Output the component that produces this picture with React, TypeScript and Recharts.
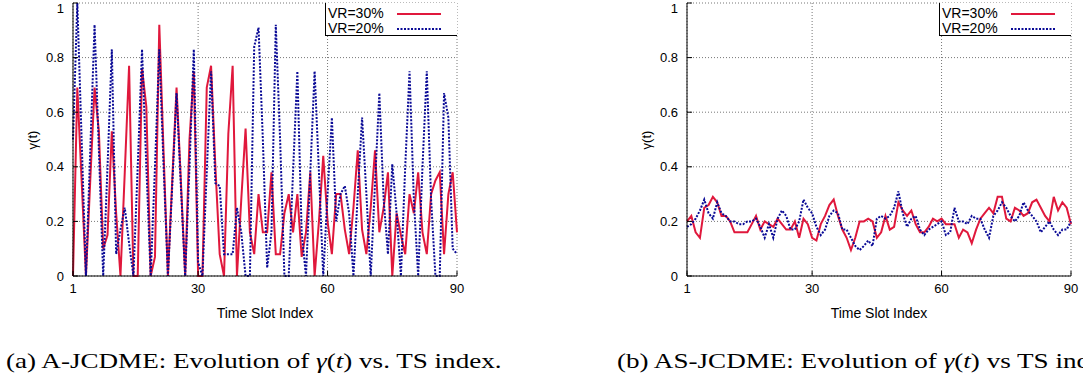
import { LineChart, Line, XAxis, YAxis, CartesianGrid, Legend } from 'recharts'

// time slot index 1..90
const slots = Array.from({ length: 90 }, (_, i) => i + 1)
const xTicks = [1, 30, 60, 90]
const yTicks = [0, 0.2, 0.4, 0.6, 0.8, 1]

// (a) A-JCDME
const ajVr30 = [
  0, 0.69, 0.35, 0, 0.35, 0.69, 0.53, 0.1, 0.15, 0.53,
  0.23, 0, 0.38, 0.77, 0, 0, 0.76, 0.62, 0, 0.07,
  0.92, 0.45, 0, 0.35, 0.69, 0.35, 0, 0.5, 0.75, 0,
  0, 0.69, 0.77, 0.4, 0.08, 0, 0.52, 0.77, 0, 0.28,
  0.54, 0.16, 0.08, 0.3, 0.16, 0.16, 0.38, 0.08, 0.08, 0.23,
  0.3, 0.16, 0.3, 0.07, 0.16, 0.38, 0, 0.2, 0.44, 0.2,
  0.08, 0.3, 0.3, 0.17, 0.08, 0.25, 0.46, 0.17, 0.08, 0.25,
  0.46, 0.16, 0.25, 0.38, 0, 0.23, 0.15, 0.08, 0.3, 0.23,
  0.38, 0.16, 0.08, 0.3, 0.35, 0.38, 0.08, 0.3, 0.38, 0.16,
]
const ajVr20 = [
  0.5, 1, 0.5, 0, 0.46, 0.92, 0.46, 0, 0.4, 0.83,
  0.08, 0.17, 0.25, 0.12, 0, 0.4, 0.83, 0.4, 0, 0.4,
  0.83, 0.4, 0, 0.33, 0.67, 0.33, 0, 0.4, 0.83, 0.05,
  0, 0.38, 0.75, 0.34, 0.33, 0.08, 0.08, 0.08, 0.25, 0.16,
  0, 0, 0.84, 0.91, 0.5, 0.03, 0.16, 0.92, 0.5, 0,
  0, 0.38, 0.75, 0.16, 0, 0.38, 0.75, 0.38, 0, 0.3,
  0.58, 0.2, 0.3, 0.33, 0.23, 0, 0.3, 0.58, 0.3, 0,
  0.34, 0.67, 0.28, 0.08, 0.41, 0.23, 0, 0.4, 0.75, 0.28,
  0, 0.4, 0.75, 0.28, 0, 0, 0.67, 0.58, 0.1, 0.08,
]

// (b) AS-JCDME
const asVr30 = [
  0.2, 0.22, 0.16, 0.14, 0.25, 0.26, 0.29, 0.27, 0.22, 0.22,
  0.2, 0.16, 0.16, 0.16, 0.16, 0.19, 0.22, 0.17, 0.2, 0.19,
  0.18, 0.21, 0.19, 0.17, 0.17, 0.2, 0.14, 0.21, 0.19, 0.14,
  0.13, 0.19, 0.22, 0.26, 0.28, 0.22, 0.17, 0.14, 0.095, 0.14,
  0.2, 0.2, 0.21, 0.2, 0.14, 0.16, 0.22, 0.17, 0.18, 0.27,
  0.24, 0.22, 0.24, 0.19, 0.16, 0.16, 0.18, 0.21, 0.2, 0.21,
  0.19, 0.19, 0.19, 0.14, 0.17, 0.16, 0.12, 0.17, 0.21, 0.23,
  0.25, 0.23, 0.29, 0.29, 0.21, 0.2, 0.25, 0.24, 0.22, 0.23,
  0.27, 0.28, 0.25, 0.22, 0.2, 0.29, 0.24, 0.27, 0.25, 0.19,
]
const asVr20 = [
  0.18, 0.19, 0.21, 0.24, 0.28, 0.23, 0.21, 0.27, 0.23, 0.22,
  0.2, 0.2, 0.19, 0.19, 0.2, 0.2, 0.21, 0.18, 0.14, 0.19,
  0.14, 0.21, 0.24, 0.22, 0.17, 0.17, 0.2, 0.28, 0.25, 0.23,
  0.18, 0.15, 0.17, 0.22, 0.24, 0.23, 0.17, 0.17, 0.14, 0.11,
  0.095, 0.11, 0.13, 0.11, 0.21, 0.22, 0.21, 0.22, 0.25, 0.31,
  0.23, 0.18, 0.21, 0.22, 0.17, 0.15, 0.17, 0.18, 0.19, 0.2,
  0.15, 0.16, 0.25, 0.2, 0.2, 0.19, 0.22, 0.21, 0.21, 0.17,
  0.14, 0.22, 0.24, 0.27, 0.25, 0.22, 0.2, 0.22, 0.27, 0.24,
  0.22, 0.2, 0.16, 0.18, 0.2, 0.17, 0.15, 0.17, 0.17, 0.2,
]

const RED = '#e0183c'
const BLUE = '#0a0a96'
const SANS = '"Liberation Sans", Arial, sans-serif'
const SERIF = '"Liberation Serif", "Times New Roman", serif'

function LegendBox() {
  const row = (label: string, color: string, dash?: string) => (
    <div style={{ display: 'flex', alignItems: 'center', height: 15 }}>
      <span style={{ width: 69, paddingLeft: 2 }}>{label}</span>
      <svg width={44} height={4}>
        <line x1={0} y1={2} x2={44} y2={2} stroke={color} strokeWidth={2} strokeDasharray={dash} />
      </svg>
    </div>
  )
  return (
    <div
      style={{
        width: 132,
        height: 33,
        boxSizing: 'border-box',
        border: '1px solid #000',
        borderTop: 'none',
        borderRight: 'none',
        background: '#fff',
        fontFamily: SANS,
        fontSize: 14,
        lineHeight: '15px',
        paddingTop: 3,
        color: '#000',
      }}
    >
      {row('VR=30%', RED)}
      {row('VR=20%', BLUE, '2 1.5')}
    </div>
  )
}

function Panel({
  left,
  captionLeft,
  vr30,
  vr20,
  caption,
}: {
  left: number
  captionLeft: number
  vr30: number[]
  vr20: number[]
  caption: React.ReactNode
}) {
  const rows = slots.map((slot, i) => ({ slot, vr30: vr30[i], vr20: vr20[i] }))
  const tickStyle = { fontFamily: SANS, fontSize: 13, fill: '#000' }
  return (
    <div style={{ position: 'absolute', left, top: 0, width: 540, height: 379 }}>
      <LineChart
        width={540}
        height={320}
        data={rows}
        margin={{ top: 3, right: 83, bottom: 0, left: 13 }}
      >
        <CartesianGrid stroke="#777" strokeDasharray="1 2" />
        <XAxis
          dataKey="slot"
          type="number"
          domain={[1, 90]}
          ticks={xTicks}
          height={44}
          tickSize={-5}
          tickMargin={13}
          stroke="#000"
          tick={tickStyle}
          label={{
            value: 'Time Slot Index',
            position: 'insideBottom',
            offset: 2,
            style: { fontFamily: SANS, fontSize: 14, fill: '#000' },
          }}
        />
        <XAxis
          xAxisId="top"
          orientation="top"
          dataKey="slot"
          type="number"
          domain={[1, 90]}
          ticks={xTicks}
          height={0}
          tickSize={-5}
          tickFormatter={() => ''}
          stroke="#000"
        />
        <YAxis
          type="number"
          domain={[0, 1]}
          ticks={yTicks}
          width={60}
          tickSize={-5}
          tickMargin={14}
          stroke="#000"
          tick={tickStyle}
          tickFormatter={(v: number) => String(v)}
        />
        <YAxis
          yAxisId="right"
          orientation="right"
          type="number"
          domain={[0, 1]}
          ticks={yTicks}
          width={0}
          tickSize={-5}
          tickFormatter={() => ''}
          stroke="#000"
        />
        <Legend
          layout="horizontal"
          verticalAlign="middle"
          align="center"
          wrapperStyle={{ position: 'absolute', left: 325, top: 3, width: 132, height: 33 }}
          content={() => <LegendBox />}
        />
        <Line
          dataKey="vr30"
          type="linear"
          stroke={RED}
          strokeWidth={2}
          dot={false}
          isAnimationActive={false}
        />
        <Line
          dataKey="vr20"
          type="linear"
          stroke={BLUE}
          strokeWidth={2}
          strokeDasharray="2 1.5"
          dot={false}
          isAnimationActive={false}
        />
      </LineChart>
      <div
        style={{
          position: 'absolute',
          left: 32,
          top: 140,
          transform: 'translate(-50%, -50%) rotate(-90deg)',
          fontFamily: SANS,
          fontSize: 13,
          whiteSpace: 'nowrap',
        }}
      >
        γ(t)
      </div>
      <div
        style={{
          position: 'absolute',
          left: captionLeft,
          top: 348,
          fontFamily: SERIF,
          fontSize: 21,
          lineHeight: '26px',
          whiteSpace: 'nowrap',
          transform: 'scaleX(1.29)',
          transformOrigin: '0 50%',
        }}
      >
        {caption}
      </div>
    </div>
  )
}

export default function App() {
  return (
    <div
      style={{
        position: 'absolute',
        left: 0,
        top: 0,
        width: 1083,
        height: 379,
        overflow: 'hidden',
        background: '#fff',
      }}
    >
      <Panel
        left={0}
        captionLeft={6}
        vr30={ajVr30}
        vr20={ajVr20}
        caption={
          <>
            (a) A-JCDME: Evolution of <i>γ</i>(<i>t</i>) vs. TS index.
          </>
        }
      />
      <Panel
        left={614}
        captionLeft={3}
        vr30={asVr30}
        vr20={asVr20}
        caption={
          <>
            (b) AS-JCDME: Evolution of <i>γ</i>(<i>t</i>) vs TS index.
          </>
        }
      />
    </div>
  )
}
